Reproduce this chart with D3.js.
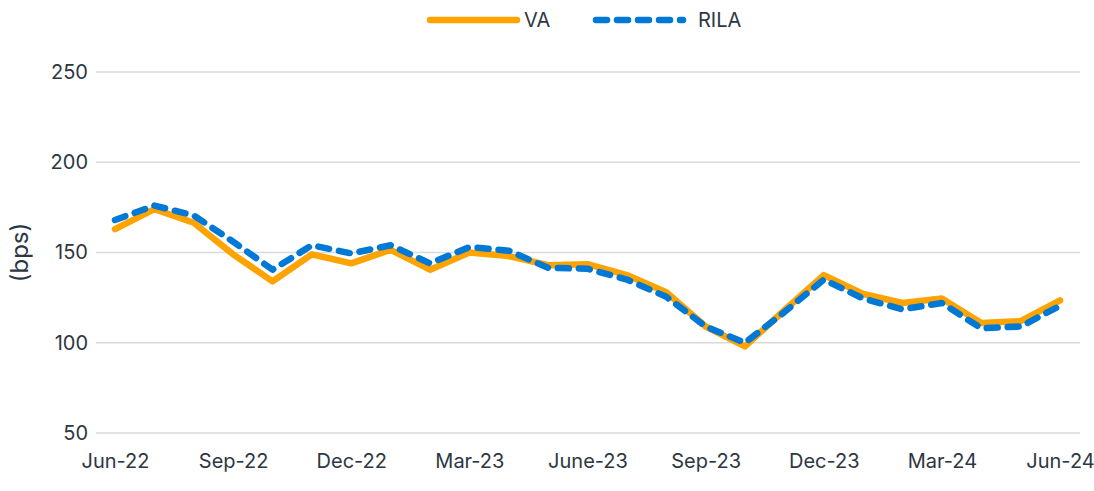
<!DOCTYPE html>
<html>
<head>
<meta charset="utf-8">
<script src="https://cdn.jsdelivr.net/npm/d3@7"></script>
<style>
  body { margin: 0; background: #fff; }
  #chart text { font-family: Inter, "DejaVu Sans", sans-serif; fill: #2d3742; }
</style>
</head>
<body>
<div id="chart"></div>
<script>
(function () {
  'use strict';

  var months = ['Jun-22', 'Jul-22', 'Aug-22', 'Sep-22', 'Oct-22', 'Nov-22', 'Dec-22', 'Jan-23', 'Feb-23',
    'Mar-23', 'Apr-23', 'May-23', 'June-23', 'Jul-23', 'Aug-23', 'Sep-23', 'Oct-23', 'Nov-23',
    'Dec-23', 'Jan-24', 'Feb-24', 'Mar-24', 'Apr-24', 'May-24', 'Jun-24'];
  var vaValues = [163, 174, 166.5, 149, 134, 149, 144, 151.5, 140.5, 150, 148, 143, 143.5, 137.5, 128,
    109, 98, 118, 137.5, 127, 122, 124.5, 111, 112, 123.5];
  var rilaValues = [168, 176, 170.5, 156, 140.5, 154, 149.5, 154, 144, 153, 151, 141.5, 141, 135, 125.5,
    109, 100, 117, 135, 124.5, 118.5, 122, 108, 109, 120.5];
  var xTickLabels = ['Jun-22', 'Sep-22', 'Dec-22', 'Mar-23', 'June-23', 'Sep-23', 'Dec-23', 'Mar-24', 'Jun-24'];
  var yTicks = [50, 100, 150, 200, 250];
  var seriesNames = ['VA', 'RILA'];

  var width = 1094;
  var height = 491;
  var orange = '#ffa300';
  var blue = '#0079d6';

  var svg = d3.select('#chart').append('svg')
    .attr('width', width)
    .attr('height', height);

  var xScale = d3.scalePoint()
    .domain(months)
    .range([115, 1060]);
  var yScale = d3.scaleLinear()
    .domain([50, 250])
    .range([433, 72]);

  // gridlines + y labels
  var grid = svg.append('g').attr('class', 'grid');
  grid.selectAll('line')
    .data(yTicks)
    .join('line')
    .attr('x1', 96)
    .attr('x2', 1080)
    .attr('y1', function (d) { return yScale(d); })
    .attr('y2', function (d) { return yScale(d); })
    .attr('stroke', '#d9d9d9')
    .attr('stroke-width', 1.5);

  var yAxis = svg.append('g')
    .attr('transform', 'translate(96,0)')
    .call(d3.axisLeft(yScale).tickValues(yTicks).tickSize(0).tickPadding(8));
  yAxis.select('.domain').remove();
  yAxis.selectAll('text').attr('font-size', '20px');

  var xAxis = svg.append('g')
    .attr('transform', 'translate(0,462)')
    .call(d3.axisBottom(xScale).tickValues(xTickLabels.map(function (l, i) { return months[i * 3]; }))
      .tickFormat(function (d, i) { return xTickLabels[i]; })
      .tickSize(0).tickPadding(0));
  xAxis.select('.domain').remove();
  xAxis.selectAll('text').attr('font-size', '20px').attr('dy', '0.32em');

  svg.append('text')
    .attr('transform', 'translate(20,' + yScale(150) + ') rotate(-90)')
    .attr('text-anchor', 'middle')
    .attr('dy', '0.35em')
    .attr('font-size', '24px')
    .text('(bps)');

  var line = d3.line()
    .x(function (d, i) { return xScale(months[i]); })
    .y(function (d) { return yScale(d); });

  svg.append('path')
    .datum(vaValues)
    .attr('d', line)
    .attr('fill', 'none')
    .attr('stroke', orange)
    .attr('stroke-width', 6.5)
    .attr('stroke-linejoin', 'round')
    .attr('stroke-linecap', 'round');

  svg.append('path')
    .datum(rilaValues)
    .attr('d', line)
    .attr('fill', 'none')
    .attr('stroke', blue)
    .attr('stroke-width', 6.5)
    .attr('stroke-dasharray', '11,10')
    .attr('stroke-linejoin', 'round')
    .attr('stroke-linecap', 'round');

  // legend
  var legend = svg.append('g').attr('class', 'legend');
  var legendX = [430, 596];
  seriesNames.forEach(function (name, i) {
    var g = legend.append('g').attr('transform', 'translate(' + legendX[i] + ',20)');
    g.append('line')
      .attr('x1', 0).attr('x2', 87)
      .attr('y1', 0).attr('y2', 0)
      .attr('stroke', i === 0 ? orange : blue)
      .attr('stroke-width', 6.5)
      .attr('stroke-linecap', 'round')
      .attr('stroke-dasharray', i === 0 ? null : '11,10');
    g.append('text')
      .attr('x', i === 0 ? 94 : 102)
      .attr('y', 0)
      .attr('dy', '0.35em')
      .attr('font-size', '20px')
      .text(name);
  });
})();
</script>
</body>
</html>
